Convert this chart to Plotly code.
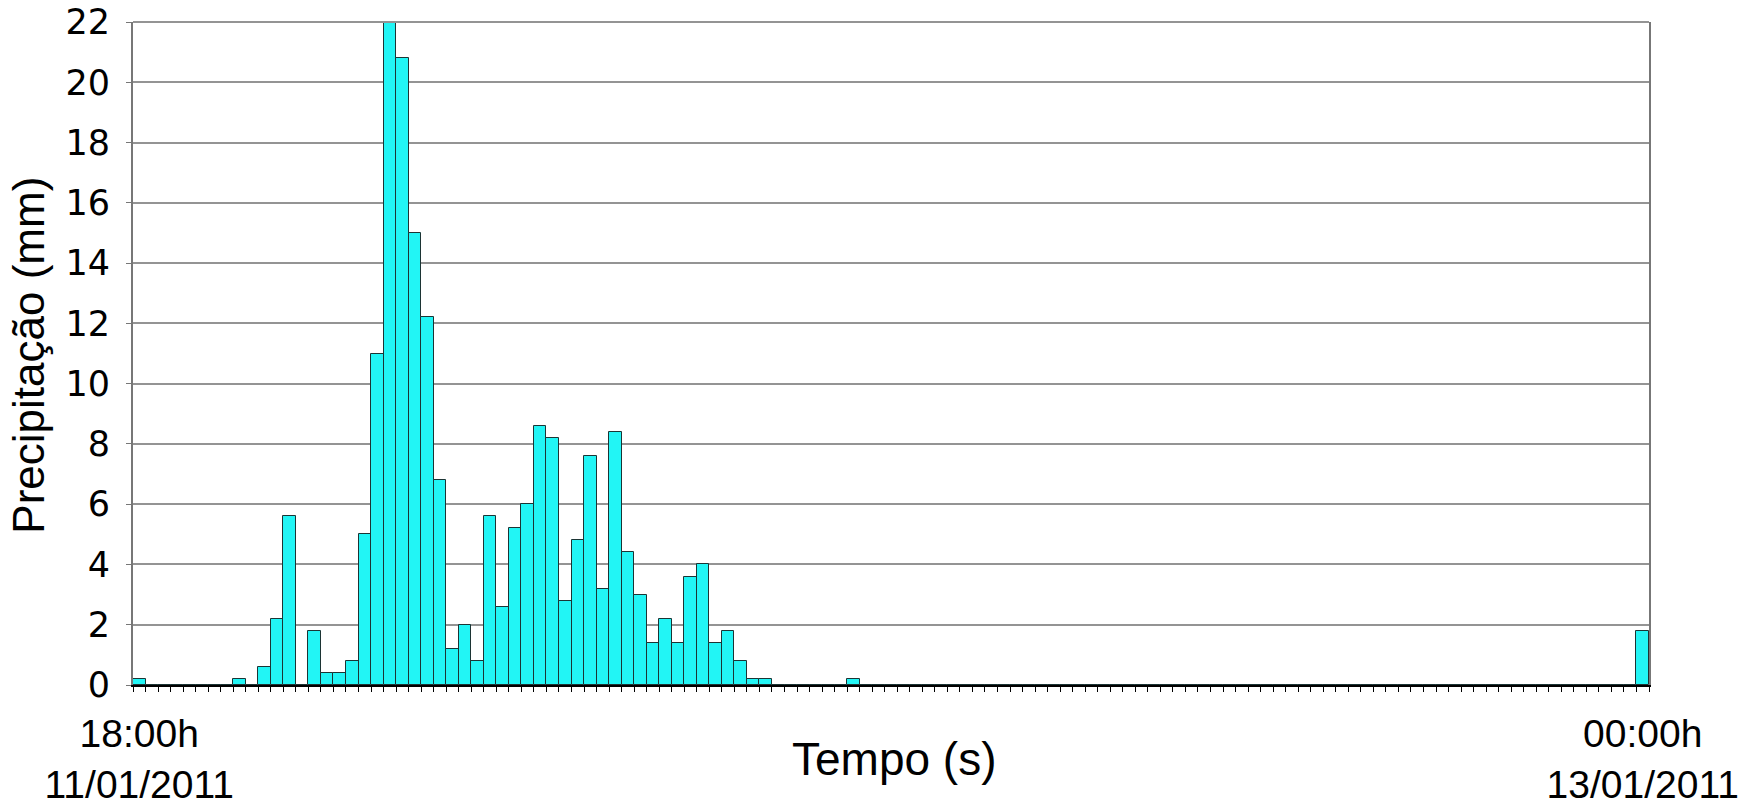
import plotly.graph_objects as go
import pandas as pd

BAR_FILL = "#22F5F5"
BAR_EDGE = "#1c3434"
GRID = "#949494"

# 15-minute intervals, 18:00h 11/01/2011 -> 00:00h 13/01/2011
tempos = pd.date_range("2011-01-11 18:00", "2011-01-13 00:00", freq="15min")
categorias = [t.strftime("%d/%m/%Y %H:%M") for t in tempos]

precipitacao = [
    0.2, 0, 0, 0, 0, 0, 0, 0, 0.2, 0,
    0.6, 2.2, 5.6, 0, 1.8, 0.4, 0.4, 0.8, 5.0, 11.0,
    22.0, 20.8, 15.0, 12.2, 6.8, 1.2, 2.0, 0.8, 5.6, 2.6,
    5.2, 6.0, 8.6, 8.2, 2.8, 4.8, 7.6, 3.2, 8.4, 4.4,
    3.0, 1.4, 2.2, 1.4, 3.6, 4.0, 1.4, 1.8, 0.8, 0.2,
    0.2, 0, 0, 0, 0, 0, 0, 0.2, 0, 0,
] + [0] * 60 + [1.8]

rotulos_x = [""] * len(categorias)
rotulos_x[0] = "18:00h<br>11/01/2011"
rotulos_x[-1] = "00:00h<br>13/01/2011"

y_ticks = list(range(0, 23, 2))

fig = go.Figure()
fig.add_trace(go.Bar(
    x=categorias,
    y=precipitacao,
    marker=dict(color=BAR_FILL, line=dict(color=BAR_EDGE, width=1)),
    showlegend=False,
))

fig.update_layout(
    width=1749,
    height=808,
    bargap=0,
    plot_bgcolor="white",
    paper_bgcolor="white",
    margin=dict(l=133, r=100, t=22, b=123),
    font=dict(family="Liberation Sans, Arial, sans-serif", color="black"),
    xaxis=dict(
        type="category",
        tickmode="array",
        tickvals=categorias,
        ticktext=rotulos_x,
        tickangle=0,
        tickson="boundaries",
        ticks="outside",
        ticklen=5,
        tickcolor="black",
        tickfont=dict(size=39, family="Liberation Sans, Arial", color="black"),
        ticklabelstandoff=13,
        ticklabeloverflow="allow",
        showline=True,
        linecolor="black",
        linewidth=2,
        showgrid=False,
        automargin=False,
    ),
    yaxis=dict(
        range=[0, 22],
        tickvals=y_ticks,
        ticks="outside",
        ticklen=5,
        tickcolor="#777777",
        tickfont=dict(size=35, family="DejaVu Sans", color="black"),
        ticklabelstandoff=9,
        ticklabeloverflow="allow",
        showline=True,
        mirror=True,
        linecolor="#777777",
        linewidth=2,
        gridcolor=GRID,
        gridwidth=2,
        zeroline=False,
        automargin=False,
    ),
    # top border of the plot area (grid line at 22)
    shapes=[dict(type="line", xref="paper", yref="paper", x0=0, x1=1, y0=1, y1=1,
                 line=dict(color=GRID, width=2))],
    annotations=[
        dict(text="Tempo (s)", xref="paper", yref="paper",
             x=0.502, y=-0.1116, xanchor="center", yanchor="middle",
             showarrow=False, font=dict(size=46, color="black")),
        dict(text="Precipitação (mm)", xref="paper", yref="paper",
             x=-0.0695, y=0.4977, xanchor="center", yanchor="middle",
             textangle=-90, showarrow=False,
             font=dict(size=44, color="black")),
    ],
)

fig.write_html("out.html", config={"displayModeBar": False},
               post_script="document.body.style.margin='0';")
